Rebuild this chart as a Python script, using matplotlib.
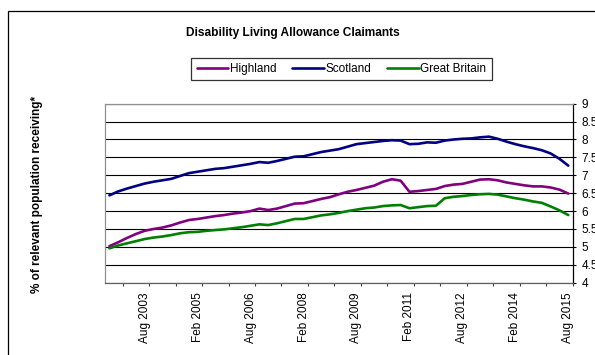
import numpy as np
import pandas as pd
import matplotlib
matplotlib.use("Agg")
import matplotlib.pyplot as plt
from matplotlib.patches import Rectangle

plt.rcParams['font.family'] = ['Liberation Sans', 'DejaVu Sans']

# quarterly DLA claimant rates, Aug 2002 - Aug 2015
quarters = pd.date_range('2002-08-01', '2015-08-01', freq='3MS')

highland = [5.02, 5.13, 5.25, 5.36, 5.45, 5.50, 5.54, 5.60, 5.68, 5.75,
            5.78, 5.82, 5.86, 5.89, 5.93, 5.96, 6.00, 6.07, 6.03, 6.07,
            6.14, 6.21, 6.22, 6.28, 6.34, 6.39, 6.47, 6.54, 6.59, 6.65,
            6.71, 6.82, 6.89, 6.85, 6.54, 6.56, 6.59, 6.62, 6.70, 6.74,
            6.76, 6.82, 6.88, 6.89, 6.86, 6.80, 6.76, 6.72, 6.69, 6.69,
            6.66, 6.60, 6.49]
scotland = [6.44, 6.55, 6.63, 6.70, 6.77, 6.82, 6.86, 6.90, 6.98, 7.06,
            7.10, 7.14, 7.18, 7.20, 7.24, 7.28, 7.32, 7.37, 7.35, 7.40,
            7.46, 7.52, 7.53, 7.59, 7.65, 7.69, 7.73, 7.80, 7.87, 7.90,
            7.93, 7.96, 7.98, 7.97, 7.87, 7.88, 7.92, 7.91, 7.97, 8.00,
            8.02, 8.03, 8.06, 8.08, 8.02, 7.94, 7.87, 7.81, 7.76, 7.70,
            7.61, 7.46, 7.27]
great_britain = [4.96, 5.04, 5.10, 5.16, 5.22, 5.26, 5.29, 5.33, 5.38, 5.41,
                 5.42, 5.45, 5.47, 5.49, 5.52, 5.55, 5.59, 5.63, 5.61, 5.66,
                 5.72, 5.78, 5.78, 5.83, 5.88, 5.91, 5.95, 6.00, 6.04, 6.08,
                 6.10, 6.14, 6.16, 6.17, 6.08, 6.11, 6.14, 6.15, 6.36, 6.40,
                 6.42, 6.45, 6.47, 6.48, 6.46, 6.41, 6.36, 6.32, 6.27, 6.23,
                 6.13, 6.02, 5.89]

tick_labels = ['Aug 2003', 'Feb 2005', 'Aug 2006', 'Feb 2008', 'Aug 2009',
               'Feb 2011', 'Aug 2012', 'Feb 2014', 'Aug 2015']
y_ticks = [4, 4.5, 5, 5.5, 6, 6.5, 7, 7.5, 8, 8.5, 9]

x = np.arange(len(quarters))
names = [q.strftime('%b %Y') for q in quarters]
label_pos = [names.index(t) for t in tick_labels]

fig = plt.figure(figsize=(5.95, 3.55), dpi=100)
ax = fig.add_axes([105 / 595, 1 - 282.7 / 355, 467.7 / 595, 179 / 355])

ax.plot(x, highland, color='#800080', lw=1.9, label='Highland', solid_capstyle='round')
ax.plot(x, scotland, color='#000080', lw=1.9, label='Scotland', solid_capstyle='round')
ax.plot(x, great_britain, color='#008000', lw=1.9, label='Great Britain', solid_capstyle='round')

ax.set_xlim(-0.5, len(x) - 0.5)
ax.set_ylim(4, 9)

# value axis on the right, with black gridlines
ax.yaxis.tick_right()
ax.set_yticks(y_ticks)
ax.set_yticklabels([f'{v:g}' for v in y_ticks])
ax.tick_params(axis='y', direction='out', length=2.5, width=0.8, pad=4,
               labelsize=8.5, colors='black')
ax.grid(axis='y', color='black', lw=0.8)
ax.set_axisbelow(True)

# tick marks sit between categories, labels every six quarters
ax.set_xticks(label_pos)
ax.set_xticklabels(tick_labels, rotation=90, fontsize=8.5)
ax.set_xticks(np.arange(1.5, len(x), 3), minor=True)
ax.tick_params(axis='x', which='major', length=0, pad=7)
ax.tick_params(axis='x', which='minor', direction='out', length=2.5, width=0.8,
               color='#404040')

for side in ['left', 'top']:
    ax.spines[side].set_color('#909090')
ax.spines['bottom'].set_color('#606060')
ax.spines['right'].set_color('black')
for sp in ax.spines.values():
    sp.set_linewidth(0.9)

fig.text(293 / 595, 1 - 33 / 355, 'Disability Living Allowance Claimants',
         ha='center', va='center', fontsize=8.6, fontweight='bold')
fig.text(37 / 595, 1 - 194 / 355, '% of relevant population receiving*',
         ha='center', va='center', rotation=90, fontsize=8.5, fontweight='bold')

leg = fig.legend(loc='center', bbox_to_anchor=(341.5 / 595, 1 - 69 / 355), ncol=3,
                 fontsize=8.5, frameon=True, fancybox=False, handlelength=2.7,
                 handletextpad=0.15, columnspacing=1.3, borderpad=0.45,
                 borderaxespad=0)
leg.get_frame().set_edgecolor('black')
leg.get_frame().set_linewidth(0.9)
for h in leg.get_lines():
    h.set_linewidth(1.9)

# chart border running off the right and bottom edges
fig.patches.append(Rectangle((8 / 595, -0.05), 1.0, 0.969 + 0.05,
                             transform=fig.transFigure, fill=False,
                             edgecolor='black', lw=0.9))

fig.savefig('out.png', dpi=100)
